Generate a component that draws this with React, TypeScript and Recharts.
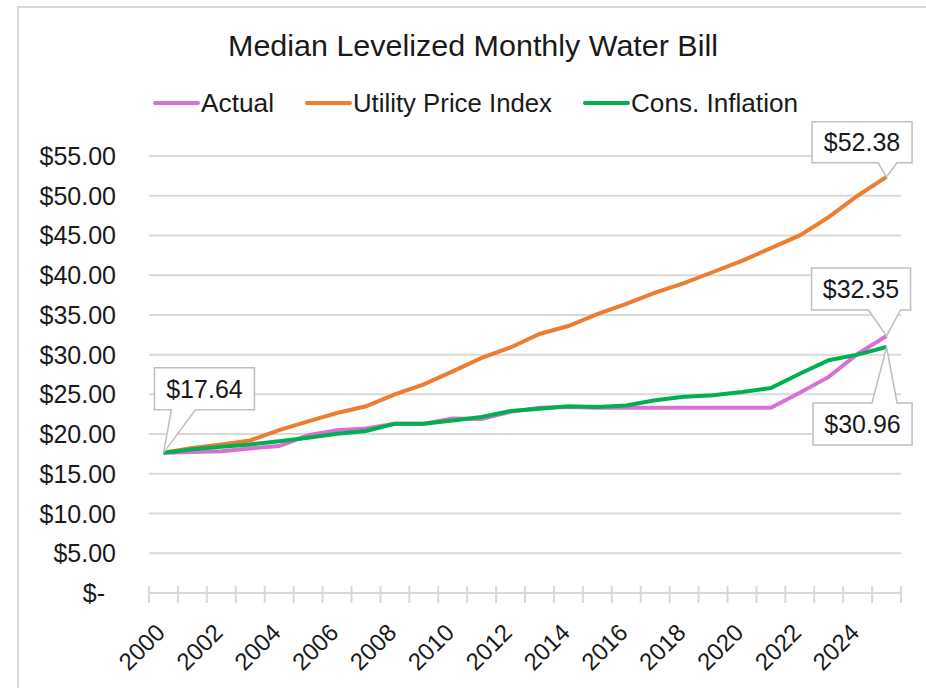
import React from "react"
import {
  CartesianGrid,
  LabelList,
  Line,
  LineChart,
  XAxis,
  YAxis,
} from "recharts"

const years = [
  "2000", "2001", "2002", "2003", "2004", "2005", "2006", "2007", "2008",
  "2009", "2010", "2011", "2012", "2013", "2014", "2015", "2016", "2017",
  "2018", "2019", "2020", "2021", "2022", "2023", "2024", "2025",
]

const actual = [
  17.64, 17.75, 17.85, 18.2, 18.5, 19.85, 20.5, 20.7, 21.3, 21.3, 21.95, 21.9,
  22.8, 23.3, 23.4, 23.3, 23.3, 23.3, 23.3, 23.3, 23.3, 23.3, 25.2, 27.2, 30.1,
  32.35,
]

const utilityIndex = [
  17.64, 18.25, 18.7, 19.2, 20.5, 21.6, 22.65, 23.5, 25.0, 26.25, 27.9, 29.6,
  30.9, 32.6, 33.6, 35.1, 36.4, 37.8, 39.0, 40.4, 41.8, 43.4, 45.0, 47.3, 50.0,
  52.38,
]

const consInflation = [
  17.64, 18.1, 18.4, 18.7, 19.1, 19.55, 20.05, 20.4, 21.3, 21.3, 21.7, 22.15,
  22.9, 23.2, 23.5, 23.4, 23.6, 24.25, 24.7, 24.9, 25.3, 25.8, 27.6, 29.3, 30.0,
  30.96,
]

const yTicks = [0, 5, 10, 15, 20, 25, 30, 35, 40, 45, 50, 55]

const data = years.map((year, i) => ({
  year,
  actual: actual[i],
  utility: utilityIndex[i],
  inflation: consInflation[i],
}))

const PINK = "#da70d6"
const ORANGE = "#ed7d31"
const GREEN = "#00b050"
const GRID = "#d9d9d9"
const FONT = "'Liberation Sans', Arial, sans-serif"
const HALF_STEP = 14.46

const money = (v: number) => "$" + v.toFixed(2)

// callout box with a pointer, placed relative to the data point
function callout(
  px: number,
  py: number,
  text: string,
  box: { dx: number; dy: number; w: number; h: number; t1: number; t2: number },
  below = false
) {
  const left = px + box.dx
  const top = py + box.dy
  const right = left + box.w
  const bottom = top + box.h
  const d = below
    ? `M${left},${top} L${px + box.t1},${top} L${px},${py} L${px + box.t2},${top} L${right},${top} L${right},${bottom} L${left},${bottom} Z`
    : `M${left},${top} L${right},${top} L${right},${bottom} L${px + box.t2},${bottom} L${px},${py} L${px + box.t1},${bottom} L${left},${bottom} Z`
  return (
    <g>
      <path d={d} fill="#fff" stroke="#bfbfbf" strokeWidth={1.5} />
      <text
        x={left + box.w / 2}
        y={top + box.h / 2 + 9}
        textAnchor="middle"
        fontSize={25}
        fontFamily={FONT}
        fill="#1a1a1a"
      >
        {text}
      </text>
    </g>
  )
}

const XTick = (props: any) => {
  const { x, y, payload, index } = props
  const yr = Number(payload.value)
  const last = index === years.length - 1
  return (
    <g>
      <line x1={x - HALF_STEP} x2={x - HALF_STEP} y1={y - 7} y2={y + 10} stroke={GRID} strokeWidth={2} />
      {last && (
        <line x1={x + HALF_STEP} x2={x + HALF_STEP} y1={y - 7} y2={y + 10} stroke={GRID} strokeWidth={2} />
      )}
      {yr % 2 === 0 && (
        <text
          x={x + 3}
          y={y + 41}
          textAnchor="end"
          transform={`rotate(-45 ${x + 3} ${y + 41})`}
          fontSize={24}
          fontFamily={FONT}
          fill="#1a1a1a"
        >
          {payload.value}
        </text>
      )}
    </g>
  )
}

const YTick = (props: any) => {
  const { y, payload } = props
  const v = Number(payload.value)
  return (
    <text
      x={v === 0 ? 105 : 116}
      y={y + 9}
      textAnchor="end"
      fontSize={25}
      fontFamily={FONT}
      fill="#1a1a1a"
    >
      {v === 0 ? "$-" : money(v)}
    </text>
  )
}

const legendItems = [
  { label: "Actual", color: PINK, x: 155, w: 73 },
  { label: "Utility Price Index", color: ORANGE, x: 307, w: 199 },
  { label: "Cons. Inflation", color: GREEN, x: 585, w: 167 },
]

export default function App() {
  return (
    <div style={{ position: "relative", width: 926, height: 688, background: "#fff", overflow: "hidden" }}>
      <style>{"body{margin:0}"}</style>
      <LineChart
        width={926}
        height={688}
        data={data}
        margin={{ top: 156, right: 25, bottom: 0, left: 0 }}
      >
        <CartesianGrid vertical={false} stroke={GRID} strokeWidth={2} />
        <XAxis
          dataKey="year"
          height={95}
          interval={0}
          padding={{ left: HALF_STEP, right: HALF_STEP }}
          axisLine={{ stroke: GRID, strokeWidth: 2 }}
          tickLine={false}
          tickSize={0}
          tickMargin={0}
          tick={<XTick />}
        />
        <YAxis
          width={149}
          domain={[0, 55]}
          ticks={yTicks}
          axisLine={false}
          tickLine={false}
          tick={<YTick />}
        />
        <Line
          dataKey="actual"
          stroke={PINK}
          strokeWidth={4}
          dot={false}
          isAnimationActive={false}
        >
          <LabelList
            dataKey="actual"
            content={(p: any) => {
              if (p.index === 0)
                return callout(p.x, p.y, money(p.value), { dx: -9, dy: -85, w: 100, h: 42, t1: 8, t2: 32 })
              if (p.index === years.length - 1)
                return callout(p.x, p.y, money(p.value), { dx: -75, dy: -68, w: 99, h: 42, t1: -18, t2: 14 })
              return null
            }}
          />
        </Line>
        <Line
          dataKey="utility"
          stroke={ORANGE}
          strokeWidth={4}
          dot={false}
          isAnimationActive={false}
        >
          <LabelList
            dataKey="utility"
            content={(p: any) =>
              p.index === years.length - 1
                ? callout(p.x, p.y, money(p.value), { dx: -74.5, dy: -55, w: 100, h: 41, t1: -8.5, t2: 10.5 })
                : null
            }
          />
        </Line>
        <Line
          dataKey="inflation"
          stroke={GREEN}
          strokeWidth={4}
          dot={false}
          isAnimationActive={false}
        >
          <LabelList
            dataKey="inflation"
            content={(p: any) =>
              p.index === years.length - 1
                ? callout(p.x, p.y, money(p.value), { dx: -73.5, dy: 56, w: 99, h: 42, t1: -14.5, t2: 10.5 }, true)
                : null
            }
          />
        </Line>
      </LineChart>
      <svg
        width={926}
        height={688}
        style={{ position: "absolute", left: 0, top: 0, pointerEvents: "none" }}
      >
        <path d="M18,688 L18,7 L926,7" fill="none" stroke={GRID} strokeWidth={2} />
        <text
          x={473}
          y={56}
          textAnchor="middle"
          fontSize={29}
          textLength={490}
          lengthAdjust="spacingAndGlyphs"
          fontFamily={FONT}
          fill="#1a1a1a"
        >
          Median Levelized Monthly Water Bill
        </text>
        {legendItems.map((it) => (
          <g key={it.label}>
            <line x1={it.x} x2={it.x + 43} y1={103} y2={103} stroke={it.color} strokeWidth={4} strokeLinecap="round" />
            <text
              x={it.x + 46}
              y={112}
              fontSize={25}
              textLength={it.w}
              lengthAdjust="spacingAndGlyphs"
              fontFamily={FONT}
              fill="#1a1a1a"
            >
              {it.label}
            </text>
          </g>
        ))}
      </svg>
    </div>
  )
}
